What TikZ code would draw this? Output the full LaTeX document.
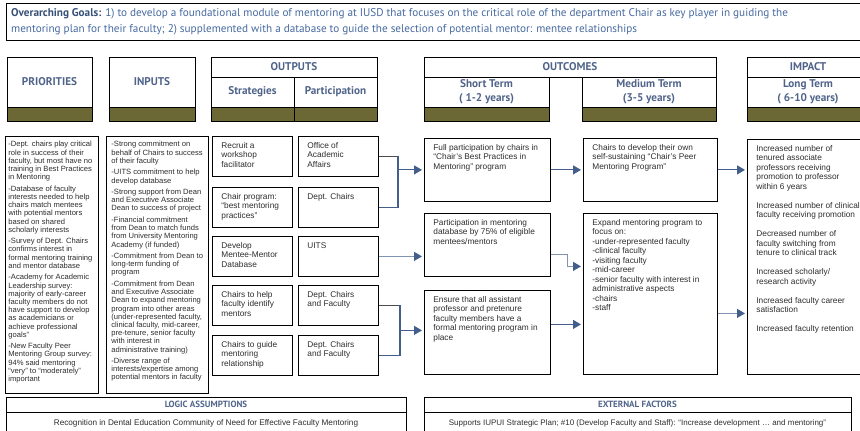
\documentclass[tikz,border=0pt]{standalone}
\usepackage{fontspec}
\setmainfont{Liberation Sans}
\newfontfamily\hdrfont{PT Sans}
\usepackage{xcolor}
\usetikzlibrary{arrows.meta,calc}
\definecolor{lmblue}{RGB}{80,100,138}
\definecolor{lmgoal}{RGB}{70,105,160}
\definecolor{lmgoaldark}{RGB}{55,80,120}
\definecolor{lmolive}{RGB}{107,104,53}
\definecolor{lmline}{RGB}{68,94,140}
\definecolor{lmlight}{RGB}{128,148,178}
\definecolor{lmtext}{RGB}{45,45,45}

% fixed-size text block, text at the top
\newcommand{\topbox}[3]{\parbox[c][#2][t]{#1}{\raggedright #3}}

\begin{document}
\begin{tikzpicture}[
        x=1pt, y=-1pt,
        every node/.style={text=lmtext},
        cell/.style={draw, line width=0.8pt, anchor=north west, inner xsep=9pt, inner ysep=6pt, font=\fontsize{8.3}{9.5}\selectfont},
        listbox/.style={cell, inner xsep=3pt, inner ysep=5pt, font=\fontsize{7.6}{8.2}\selectfont},
        head/.style={font=\hdrfont\bfseries\fontsize{11.2}{14}\selectfont, text=lmblue, align=center},
        foot/.style={font=\hdrfont\bfseries\fontsize{9}{10}\selectfont, text=lmblue},
        frame/.style={draw, line width=1pt},
        band/.style={fill=lmolive},
        conn/.style={line width=1.1pt, lmline},
        arr/.style={conn, -{Triangle[length=8pt,width=9pt,color=lmline]}, shorten >=2pt}
    ]
        \useasboundingbox (0,0) rectangle (860,431);

        % goals
        \draw[frame] (6,3) rectangle (869,40);
        \node[anchor=north west, inner sep=0pt, align=left, text=lmgoal, font=\hdrfont\fontsize{11.2}{16}\selectfont] (goals) at (11,8)
            {\textcolor{lmgoaldark}{\bfseries Overarching Goals:} 1) to develop a foundational module of mentoring at IUSD that focuses on the critical role of the department Chair as key player in guiding the\\
             mentoring plan for their faculty; 2) supplemented with a database to guide the selection of potential mentor: mentee relationships};

        % column heads
        \fill[band] (7,107) rectangle (92,121);
        \draw[frame] (7,57) rectangle (92,121);
        \draw[frame] (7,107) -- (92,107);
        \node[head] (hprio) at (49.5,82) {PRIORITIES};

        \fill[band] (109,107) rectangle (195,121);
        \draw[frame] (109,57) rectangle (195,121);
        \draw[frame] (109,107) -- (195,107);
        \node[head] (hinp) at (152,82) {INPUTS};

        \fill[band] (211,107) rectangle (377,121);
        \draw[frame] (211,57) rectangle (377,121);
        \draw[frame] (211,77) -- (377,77);
        \draw[frame] (211,107) -- (377,107);
        \draw[frame] (294,77) -- (294,121);
        \node[head] (hout) at (294,67) {OUTPUTS};
        \node[head] (hstrat) at (252.5,92) {Strategies};
        \node[head] (hpart) at (335.5,92) {Participation};

        \draw[frame] (424,57) rectangle (716,77);
        \node[head] (hoc) at (570,67) {OUTCOMES};
        \fill[band] (424,107) rectangle (549,121);
        \draw[frame] (424,77) rectangle (549,121);
        \draw[frame] (424,107) -- (549,107);
        \node[head] (hshort) at (486.5,92) {Short Term\\( 1-2 years)};
        \fill[band] (582,107) rectangle (716,121);
        \draw[frame] (582,77) rectangle (716,121);
        \draw[frame] (582,107) -- (716,107);
        \node[head] (hmed) at (649,92) {Medium Term\\(3-5 years)};

        \fill[band] (747,107) rectangle (869,121);
        \draw[frame] (747,57) rectangle (869,121);
        \draw[frame] (747,77) -- (869,77);
        \draw[frame] (747,107) -- (869,107);
        \node[head] (himp) at (808,67) {IMPACT};
        \node[head] (hlong) at (808,92) {Long Term\\( 6-10 years)};

        % priorities and inputs
        \node[listbox] (prio) at (5,136) {\topbox{87pt}{247pt}{%
            -Dept. chairs play critical\\role in success of their\\faculty, but most have no\\training in Best Practices\\in Mentoring\\[3.3pt]
            -Database of faculty\\interests needed to help\\chairs match mentees\\with potential mentors\\based on shared\\scholarly interests\\[3.3pt]
            -Survey of Dept. Chairs\\confirms interest in\\formal mentoring training\\and mentor database\\[3.3pt]
            -Academy for Academic\\Leadership survey:\\majority of early-career\\faculty members do not\\have support to develop\\as academicians or\\achieve professional\\goals''\\[3.3pt]
            -New Faculty Peer\\Mentoring Group survey:\\94\% said mentoring\\``very'' to ``moderately''\\important}};
        \node[listbox, inner xsep=5pt] (inp) at (106,136) {\topbox{92pt}{247pt}{%
            -Strong commitment on\\behalf of Chairs to success\\of their faculty\\[3.3pt]
            -UITS commitment to help\\develop database\\[3.3pt]
            -Strong support from Dean\\and Executive Associate\\Dean to success of project\\[3.3pt]
            -Financial commitment\\from Dean to match funds\\from University Mentoring\\Academy (if funded)\\[3.3pt]
            -Commitment from Dean to\\long-term funding of\\program\\[3.3pt]
            -Commitment from Dean\\and Executive Associate\\Dean to expand mentoring\\program into other areas\\(under-represented faculty,\\clinical faculty, mid-career,\\pre-tenure, senior faculty\\with interest in\\administrative training)\\[3.3pt]
            -Diverse range of\\interests/expertise among\\potential mentors in faculty}};

        % outputs
        \node[cell] (s1) at (212,136) {\topbox{62pt}{28pt}{Recruit a\\workshop\\facilitator}};
        \node[cell] (s2) at (212,187) {\topbox{62pt}{28pt}{Chair program:\\``best mentoring\\practices''}};
        \node[cell] (s3) at (212,236) {\topbox{62pt}{28pt}{Develop\\Mentee-Mentor\\Database}};
        \node[cell] (s4) at (212,285) {\topbox{62pt}{28pt}{Chairs to help\\faculty identify\\mentors}};
        \node[cell] (s5) at (212,335) {\topbox{62pt}{28pt}{Chairs to guide\\mentoring\\relationship}};
        \node[cell] (p1) at (298,136) {\topbox{62pt}{28pt}{Office of\\Academic\\Affairs}};
        \node[cell] (p2) at (298,187) {\topbox{62pt}{28pt}{Dept. Chairs}};
        \node[cell] (p3) at (298,236) {\topbox{62pt}{28pt}{UITS}};
        \node[cell] (p4) at (298,285) {\topbox{62pt}{28pt}{Dept. Chairs\\and Faculty}};
        \node[cell] (p5) at (298,335) {\topbox{62pt}{28pt}{Dept. Chairs\\and Faculty}};

        % outcomes
        \node[cell] (st1) at (424,138) {\topbox{108pt}{51pt}{Full participation by chairs in\\``Chair's Best Practices in\\Mentoring'' program}};
        \node[cell] (st2) at (424,213) {\topbox{108pt}{51pt}{Participation in mentoring\\database by 75\% of eligible\\mentees/mentors}};
        \node[cell] (st3) at (424,290) {\topbox{108pt}{72pt}{Ensure that all assistant\\professor and pretenure\\faculty members have a\\formal mentoring program in\\place}};
        \node[cell] (md1) at (583,138) {\topbox{116pt}{51pt}{Chairs to develop their own\\self-sustaining ``Chair's Peer\\Mentoring Program''}};
        \node[cell] (md2) at (583,213) {\topbox{116pt}{149pt}{Expand mentoring program to\\focus on:\\-under-represented faculty\\-clinical faculty\\-visiting faculty\\-mid-career\\-senior faculty with interest in\\administrative aspects\\-chairs\\-staff}};

        % impact
        \node[cell] (imp) at (747,139) {\topbox{104pt}{223pt}{Increased number of\\tenured associate\\professors receiving\\promotion to professor\\within 6 years\\[9.5pt]
            Increased number of clinical\\faculty receiving promotion\\[9.5pt]
            Decreased number of\\faculty switching from\\tenure to clinical track\\[9.5pt]
            Increased scholarly/\\research activity\\[9.5pt]
            Increased faculty career\\satisfaction\\[9.5pt]
            Increased faculty retention}};

        % connectors
        \coordinate (jA) at (398,0);
        \coordinate (jB) at (400,0);
        \draw[conn, black!70] (p1.east) -- (p1.east -| jA);
        \draw[conn] (p1.east -| jA) |- (p2.east);
        \draw[arr] (jA |- st1.west) -- (st1.west);
        \draw[arr, lmlight] (p3.east) -- (p3.east -| st2.west);
        \draw[conn, black!70] (p4.east) -- (p4.east -| jB);
        \draw[conn] (p4.east -| jB) |- (p5.east);
        \coordinate (jBm) at ($(p4.east -| jB)!0.5!(p5.east -| jB)$);
        \draw[arr] (jBm) -- (jBm -| st3.west);

        \draw[arr] (st1.east) -- (st1.east -| md1.west);
        \draw[arr, lmlight] ([yshift=-10pt]st2.east) -- ++(17,0) |- ([yshift=27.5pt]md2.west);
        \draw[arr] ([yshift=8pt]st3.east) -- ([yshift=8pt]st3.east -| md2.west);
        \draw[arr] (md1.east) -- (md1.east -| imp.west);
        \draw[arr, lmlight] ([yshift=-19.5pt]md2.east) -- ([yshift=-19.5pt]md2.east -| imp.west);

        % assumptions and factors
        \draw[frame] (6,397) rectangle (406,440);
        \draw[frame] (6,412) -- (406,412);
        \node[foot] (hlogic) at (206,404.5) {LOGIC ASSUMPTIONS};
        \node[font=\fontsize{8.2}{9}\selectfont] (logic) at (206,423) {Recognition in Dental Education Community of Need for Effective Faculty Mentoring};
        \draw[frame] (424,397) rectangle (851,440);
        \draw[frame] (424,412) -- (851,412);
        \node[foot] (hext) at (637.5,404.5) {EXTERNAL FACTORS};
        \node[font=\fontsize{8}{9}\selectfont] (ext) at (637.5,423) {Supports IUPUI Strategic Plan; \#10 (Develop Faculty and Staff): ``Increase development … and mentoring''};
    \end{tikzpicture}
\end{document}
